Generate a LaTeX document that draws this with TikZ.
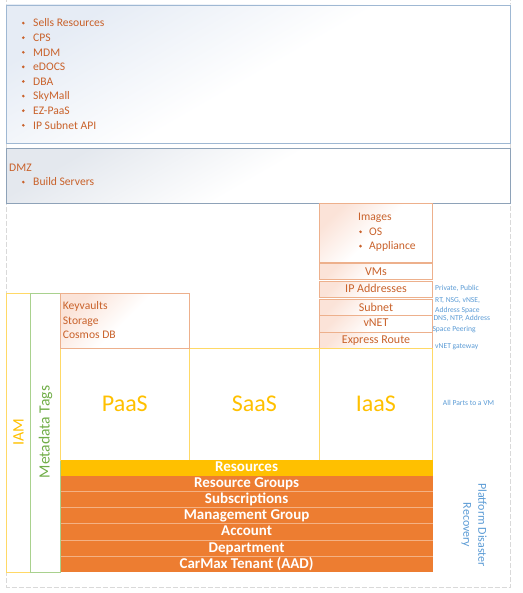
\documentclass[tikz,border=0pt]{standalone}
\usepackage{fontspec}
\setmainfont{Carlito}
\definecolor{otxt}{HTML}{C9622B}
\definecolor{bluetxt}{HTML}{5B9BD5}
\definecolor{topborder}{HTML}{9FB8D3}
\definecolor{dmzborder}{HTML}{8EA2B8}
\definecolor{topfill}{HTML}{E6ECF5}
\definecolor{dmzfill}{HTML}{E4E8EE}
\definecolor{pinkfill}{HTML}{FBE3D8}
\definecolor{salmon}{HTML}{EDB08C}
\definecolor{ylw}{HTML}{FFD966}
\definecolor{gold}{HTML}{FFC000}
\definecolor{grn}{HTML}{A9D18E}
\definecolor{grntxt}{HTML}{70AD47}
\definecolor{orng}{HTML}{ED7D31}
\definecolor{sep}{HTML}{F4B183}
\definecolor{dashgray}{HTML}{D9D9D9}
\tikzset{
  lst/.style={font=\fontsize{11.6}{14}\selectfont, text=otxt, anchor=base west, inner sep=0pt},
  stk/.style={font=\fontsize{12}{14}\selectfont, text=otxt, anchor=base, inner sep=0pt},
  note/.style={font=\fontsize{7.6}{9}\selectfont, text=bluetxt, anchor=base west, inner sep=0pt},
  big/.style={font=\fontsize{24}{28}\selectfont, text=gold, anchor=base, inner sep=0pt},
  bar/.style={font=\bfseries\fontsize{15}{16}\selectfont, text=white, anchor=base, inner sep=0pt},
  pinkbox/.style={draw=salmon, line width=0.8pt, top color=pinkfill, bottom color=white, middle color=white, shading angle=45},
  ybox/.style={draw=ylw, line width=0.8pt},
}
\begin{document}
\begin{tikzpicture}[x=1pt,y=-1pt]
\useasboundingbox (0,0) rectangle (522,593);
% outer dashed frame
\draw[dashgray, line width=0.8pt, dash pattern=on 5pt off 2pt] (6.7,-3) rectangle (510.5,587);
% top box
\draw[topborder, line width=0.9pt, top color=topfill, bottom color=white, middle color=white, shading angle=30] (6.7,5) rectangle (510.5,143.3);
\foreach \t/\b [count=\i] in {Sells Resources/27, CPS/41.6, MDM/56.2, eDOCS/70.8, DBA/85.4, SkyMall/100, EZ-PaaS/114.6, IP Subnet API/129.2}{
  \fill[otxt] (23.3,\b-3.9) circle (1.45pt);
  \node[lst] (l\i) at (33,\b) {\t};
}
% DMZ
\draw[dmzborder, line width=0.9pt, top color=dmzfill, bottom color=white, middle color=white, shading angle=30] (6.7,148.3) rectangle (510.5,203.3);
\node[lst] (dmz) at (9,171.5) {DMZ};
\fill[otxt] (23.3,186-3.9) circle (1.45pt);
\node[lst] (build) at (33,186) {Build Servers};
% IaaS stack
\draw[pinkbox] (319.3,203.5) rectangle (432.5,262);
\node[lst] (img) at (358,221) {Images};
\fill[otxt] (360.5,235.7-3.9) circle (1.45pt);
\node[lst] (os) at (369,235.7) {OS};
\fill[otxt] (360.5,250-3.9) circle (1.45pt);
\node[lst] (app) at (369,250) {Appliance};
\draw[pinkbox] (319.3,263.3) rectangle (432.5,279.3);
\node[stk] (vms) at (376,275) {VMs};
\draw[pinkbox] (319.3,281) rectangle (432.5,297.3);
\node[stk] (ip) at (376,292.7) {IP Addresses};
\draw[pinkbox] (319.3,299) rectangle (432.5,315);
\node[stk] (subnet) at (376,311) {Subnet};
\draw[pinkbox] (319.3,315) rectangle (432.5,332);
\node[stk] (vnet) at (376,326.7) {vNET};
\draw[pinkbox] (319.3,332) rectangle (432.5,348.3);
\node[stk] (er) at (376,343.3) {Express Route};
% blue notes
\node[note] (n1) at (435,290) {Private, Public};
\node[note] (n2) at (435,302.3) {RT, NSG, vNSE,};
\node[note] (n3) at (435,312.3) {Address Space};
\node[note] (n4) at (433.3,320.7) {DNS, NTP, Address};
\node[note] (n5) at (432.3,331) {Space Peering};
\node[note] (n6) at (435,348.7) {vNET gateway};
\node[note] (n7) at (442.7,405) {All Parts to a VM};
% IAM & Metadata columns
\draw[ybox] (6.7,293) rectangle (30.3,572.3);
\draw[grn, line width=0.8pt] (30.3,293) rectangle (60.5,572.3);
\node[rotate=90, font=\fontsize{16}{18}\selectfont, text=gold, inner sep=0pt] (iam) at (18.5,432) {IAM};
\node[rotate=90, font=\fontsize{15.6}{18}\selectfont, text=grntxt, inner sep=0pt] (meta) at (45.5,432) {Metadata Tags};
% PaaS/SaaS/IaaS
\draw[ybox] (60.5,348.3) rectangle (189.3,460);
\draw[ybox] (189.3,348.3) rectangle (319.3,460);
\draw[ybox] (319.3,348.3) rectangle (432.5,460);
\draw[pinkbox] (60.5,293) rectangle (189.3,348.3);
\node[lst] (kv) at (62.7,309.5) {Keyvaults};
\node[lst] (st) at (62.7,324) {Storage};
\node[lst] (cdb) at (62.7,338.5) {Cosmos DB};
\node[big] (paas) at (124.8,411) {PaaS};
\node[big] (saas) at (254.3,411) {SaaS};
\node[big] (iaas) at (375.9,411) {IaaS};
% bars
\fill[gold] (60.5,460) rectangle (432.7,475.7);
\fill[orng] (60.5,475.7) rectangle (432.7,572.3);
\foreach \y in {491.7,507.3,523.3,540,556.7}{
  \draw[sep, line width=0.6pt] (60.5,\y) -- (432.7,\y);
}
\node[bar] (res) at (246.6,471) {Resources};
\node[bar] (rg) at (246.6,487.7) {Resource Groups};
\node[bar] (sub) at (246.6,503.3) {Subscriptions};
\node[bar] (mg) at (246.6,519) {Management Group};
\node[bar] (acc) at (246.6,535.2) {Account};
\node[bar] (dep) at (246.6,552) {Department};
\node[bar] (cmx) at (246.6,568) {CarMax Tenant (AAD)};
% Platform DR
\node[rotate=-90, align=center, font=\fontsize{12}{15}\selectfont, text=bluetxt, inner sep=0pt] (pdr) at (474,525) {Platform Disaster\\Recovery};
\end{tikzpicture}
\end{document}
